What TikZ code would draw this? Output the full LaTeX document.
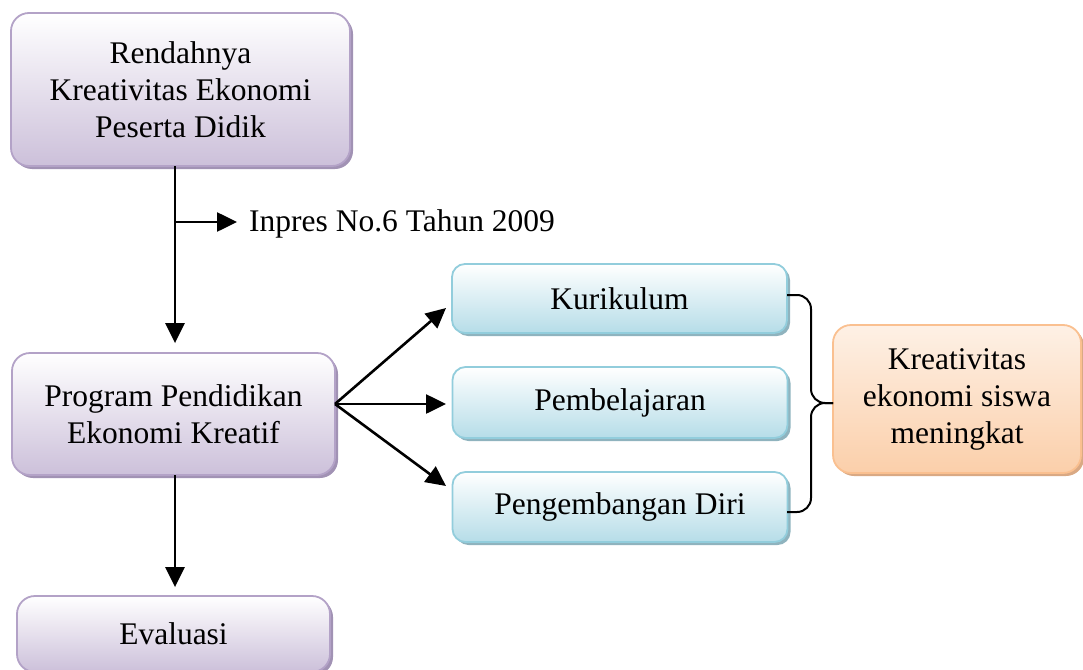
\documentclass[tikz,border=0pt]{standalone}
\usepackage{fontspec}
\setmainfont{Liberation Serif}
\usetikzlibrary{arrows.meta,shadows}
\definecolor{purB}{HTML}{B3A2C7}
\definecolor{purF}{HTML}{CCC0DA}
\definecolor{purS}{HTML}{A192B4}
\definecolor{bluB}{HTML}{92CDDC}
\definecolor{bluF}{HTML}{B6DDE8}
\definecolor{bluS}{HTML}{8FB3BE}
\definecolor{orgB}{HTML}{FAC090}
\definecolor{orgF}{HTML}{FBCFAA}
\definecolor{orgS}{HTML}{D9A984}
\tikzset{
  base/.style={rectangle, rounded corners=18pt, line width=1.8pt, align=center,
    font=\fontsize{31.5}{37}\selectfont, inner sep=0pt, shading=axis, shading angle=0},
  purbox/.style={base, draw=purB, top color=white, bottom color=purF,
    drop shadow={shadow xshift=3pt, shadow yshift=-3pt, fill=purS, opacity=1}},
  blubox/.style={base, rounded corners=13pt, draw=bluB, top color=white, bottom color=bluF,
    drop shadow={shadow xshift=3pt, shadow yshift=-3pt, fill=bluS, opacity=1}},
  orgbox/.style={base, draw=orgB, top color=white!70!orgF, bottom color=orgF,
    drop shadow={shadow xshift=3pt, shadow yshift=-3pt, fill=orgS, opacity=1}},
  conn/.style={line width=2.6pt, -{Triangle[length=20pt,width=19pt]}},
  plain/.style={line width=2pt}
}
\begin{document}
\begin{tikzpicture}[x=1pt,y=-1pt]
\useasboundingbox (0,0) rectangle (1083,669);
\node[purbox, minimum width=339pt, minimum height=153pt] (b1) at (180.5,89.5)
  {Rendahnya\\Kreativitas Ekonomi\\Peserta Didik};
\node[purbox, minimum width=323pt, minimum height=122pt] (b2) at (173.5,414)
  {Program Pendidikan\\Ekonomi Kreatif};
\node[purbox, minimum width=313pt, minimum height=76pt] (b3) at (173.5,634)
  {Evaluasi};
\node[blubox, minimum width=335pt, minimum height=69pt] (k) at (619.5,298.5) {Kurikulum};
\node[blubox, minimum width=335pt, minimum height=71pt] (p) at (620,402.5) {Pembelajaran};
\node[blubox, minimum width=335pt, minimum height=70pt] (g) at (620,507) {Pengembangan Diri};
\node[orgbox, minimum width=248pt, minimum height=148pt] (o) at (957,399)
  {Kreativitas\\ekonomi siswa\\meningkat};
\node[anchor=west, font=\fontsize{31.5}{37}\selectfont, inner sep=0pt] (inp) at (249,224)
  {Inpres No.6 Tahun 2009};

\coordinate (v1) at (175,166);
\coordinate (v2) at (175,222);
\coordinate (v3) at (175,475);
\coordinate (src) at (335,404);
\coordinate (kt) at (446,308);
\coordinate (pt) at (446,404);
\coordinate (gt) at (446,486);
\coordinate (ka) at (787,295);
\coordinate (ga) at (787,512);
\coordinate (tip) at (833,403);

\draw[conn, shorten >=9pt] (v1) -- (b2.north -| v1);
\draw[conn] (v2) -- (237,222);
\draw[conn, shorten >=8pt] (v3) -- (b3.north -| v3);
\draw[conn] (src) -- (kt);
\draw[conn] (src) -- (pt);
\draw[conn] (src) -- (gt);
\draw[plain, rounded corners=14pt] (ka) -- (811,295) -- (811,403) -- (tip);
\draw[plain, rounded corners=14pt] (tip) -- (811,403) -- (811,512) -- (ga);
\end{tikzpicture}
\end{document}
